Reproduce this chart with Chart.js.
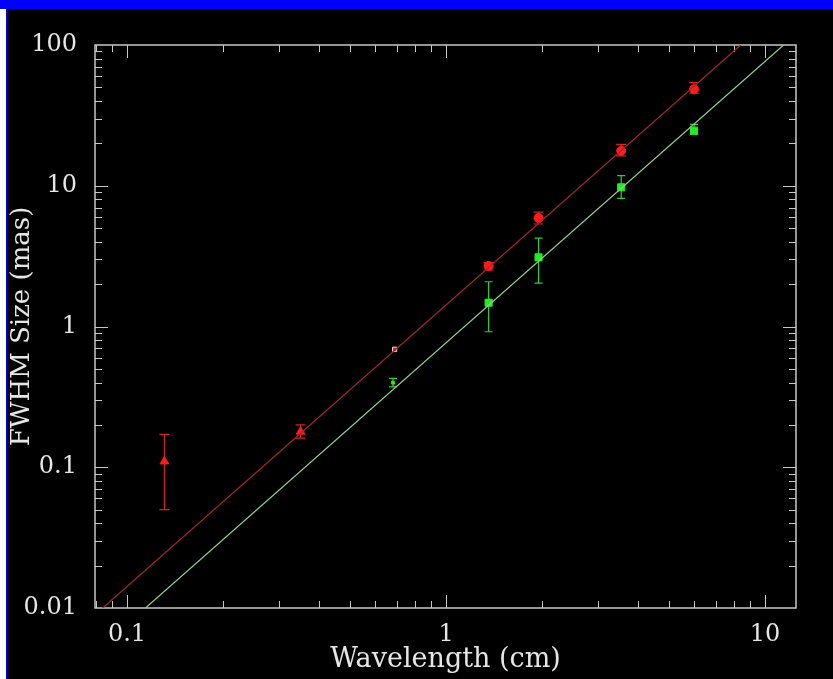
<!DOCTYPE html>
<html>
<head>
<meta charset="utf-8">
<script src="https://cdn.jsdelivr.net/npm/chart.js@4"></script>
<style>
  body { margin: 0; background: #000; width: 833px; height: 679px; overflow: hidden; position: relative; }
  #bar { position: absolute; left: 0; top: 0; width: 833px; height: 9px; background: #0000ff; }
  #edge { position: absolute; left: 0; top: 9px; width: 6px; height: 670px; background: #fff; }
  #edge2 { position: absolute; left: 6px; top: 9px; width: 1px; height: 670px; background: #0000ff; }
  #wrap { position: absolute; left: 7px; top: 9px; width: 826px; height: 670px; }
</style>
</head>
<body>
<div id="bar"></div><div id="edge"></div><div id="edge2"></div>
<div id="wrap"><canvas id="chart" width="826" height="670"></canvas></div>
<script>
// red points (wavelength cm, FWHM mas, error bar low/high)
const redLambda = [0.131, 0.350, 0.690, 1.36, 1.95, 3.54, 5.99];
const redSize   = [0.110, 0.179, 0.689, 2.69, 5.9, 17.7, 48.4];
const redLow    = [0.050, 0.161, 0.689, 2.52, 5.35, 16.3, 45.4];
const redHigh   = [0.171, 0.200, 0.689, 2.84, 6.5, 19.7, 54.0];
const redStyle  = ['triangle', 'triangle', 'rect', 'circle', 'circle', 'circle', 'circle'];

// green points
const greenLambda = [0.682, 1.36, 1.95, 3.54, 5.99];
const greenSize   = [0.399, 1.476, 3.10, 9.75, 24.6];
const greenLow    = [0.373, 0.918, 2.03, 8.14, 23.3];
const greenHigh   = [0.428, 2.08, 4.25, 11.8, 27.3];

// fitted lines, end points
const redFitLambda = [0.0839, 8.39];
const redFitSize = [0.01, 100];
const greenFitLambda = [0.1143, 11.43];
const greenFitSize = [0.01, 100];

const xRange = [0.0794, 12.5];
const yRange = [0.01, 100];

const textColor = '#e6e6e6';
const axisColor = '#c8c8c8';
const fontName = '"DejaVu Serif", serif';

const toPoints = (xs, ys) => xs.map((v, i) => ({ x: v, y: ys[i] }));

function isPow10(v) {
  const l = Math.log10(v);
  return Math.abs(l - Math.round(l)) < 1e-6;
}

// box + inward ticks on all four sides
const framePlugin = {
  id: 'frame',
  beforeDatasetsDraw(chart) {
    const { ctx, chartArea: a, scales } = chart;
    ctx.save();
    ctx.strokeStyle = axisColor;
    ctx.lineWidth = 1.5;
    ctx.strokeRect(a.left, a.top, a.right - a.left, a.bottom - a.top);
    ctx.lineWidth = 1;
    ctx.beginPath();
    const logTicks = (scale, fn) => {
      for (let e = Math.floor(Math.log10(scale.min)); e <= Math.ceil(Math.log10(scale.max)); e++) {
        for (let k = 1; k <= 9; k++) {
          const v = k * Math.pow(10, e);
          if (v < scale.min * 1.0001 || v > scale.max * 0.9999) continue;
          fn(Math.round(scale.getPixelForValue(v)) + 0.5, k === 1 ? 13 : 7);
        }
      }
    };
    logTicks(scales.x, (px, len) => {
      ctx.moveTo(px, a.bottom); ctx.lineTo(px, a.bottom - len);
      ctx.moveTo(px, a.top); ctx.lineTo(px, a.top + len);
    });
    logTicks(scales.y, (py, len) => {
      ctx.moveTo(a.left, py); ctx.lineTo(a.left + len, py);
      ctx.moveTo(a.right, py); ctx.lineTo(a.right - len, py);
    });
    ctx.stroke();
    ctx.restore();
  }
};

// vertical error bars with caps
const errorBarPlugin = {
  id: 'errorBars',
  beforeDatasetsDraw(chart) {
    const { ctx, scales: { x, y } } = chart;
    ctx.save();
    chart.data.datasets.forEach(ds => {
      if (!ds.errLow) return;
      ctx.strokeStyle = ds.errColor;
      ctx.lineWidth = 1.2;
      ctx.beginPath();
      ds.data.forEach((p, i) => {
        const px = x.getPixelForValue(p.x);
        const lo = y.getPixelForValue(ds.errLow[i]);
        const hi = y.getPixelForValue(ds.errHigh[i]);
        if (Math.abs(lo - hi) < 1) return;
        const c = ds.capWidth;
        ctx.moveTo(px, lo); ctx.lineTo(px, hi);
        ctx.moveTo(px - c, lo); ctx.lineTo(px + c, lo);
        ctx.moveTo(px - c, hi); ctx.lineTo(px + c, hi);
      });
      ctx.stroke();
    });
    ctx.restore();
  }
};

new Chart(document.getElementById('chart'), {
  type: 'scatter',
  data: {
    datasets: [
      {
        label: 'red fit',
        data: toPoints(redFitLambda, redFitSize),
        showLine: true,
        borderColor: '#a02a2a',
        borderWidth: 1.2,
        pointRadius: 0
      },
      {
        label: 'green fit',
        data: toPoints(greenFitLambda, greenFitSize),
        showLine: true,
        borderColor: '#8fd08f',
        borderWidth: 1.2,
        pointRadius: 0
      },
      {
        label: 'red',
        data: toPoints(redLambda, redSize),
        errLow: redLow,
        errHigh: redHigh,
        errColor: '#d42424',
        capWidth: 5,
        pointStyle: redStyle,
        pointRadius: [5, 5, 3, 4.5, 4.5, 4.5, 4.5],
        backgroundColor: ['#ff1c1c', '#ff1c1c', '#c03030', '#ff1c1c', '#ff1c1c', '#ff1c1c', '#ff1c1c'],
        borderColor: ['#ff1c1c', '#ff1c1c', '#ffd0d0', '#ff1c1c', '#ff1c1c', '#ff1c1c', '#ff1c1c'],
        borderWidth: 1
      },
      {
        label: 'green',
        data: toPoints(greenLambda, greenSize),
        errLow: greenLow,
        errHigh: greenHigh,
        errColor: '#33d033',
        capWidth: 4,
        pointStyle: 'rect',
        pointRadius: [2, 5, 5, 5, 5],
        backgroundColor: '#22ee22',
        borderColor: '#22ee22',
        borderWidth: 1
      }
    ]
  },
  options: {
    responsive: false,
    animation: false,
    events: [],
    layout: { padding: { left: 0, top: 36, right: 37, bottom: 0 } },
    plugins: { legend: { display: false }, tooltip: { enabled: false } },
    scales: {
      x: {
        type: 'logarithmic',
        min: xRange[0],
        max: xRange[1],
        grid: { display: false, drawTicks: false },
        border: { display: false },
        ticks: {
          autoSkip: false,
          maxRotation: 0,
          padding: 12,
          color: textColor,
          font: { family: fontName, size: 24 },
          callback: v => isPow10(v) ? String(Number(v.toPrecision(6))) : ''
        },
        title: {
          display: true,
          text: 'Wavelength (cm)',
          color: textColor,
          font: { family: fontName, size: 27 },
          padding: { top: 0, bottom: 3 }
        },
        afterFit: s => { s.height = 71; }
      },
      y: {
        type: 'logarithmic',
        min: yRange[0],
        max: yRange[1],
        grid: { display: false, drawTicks: false },
        border: { display: false },
        ticks: {
          autoSkip: false,
          padding: 18,
          color: textColor,
          font: { family: fontName, size: 24 },
          callback: v => isPow10(v) ? String(Number(v.toPrecision(6))) : ''
        },
        title: {
          display: true,
          text: 'FWHM Size (mas)',
          color: textColor,
          font: { family: fontName, size: 26 },
          padding: { top: 0, bottom: 0 }
        },
        afterFit: s => { s.width = 88; }
      }
    }
  },
  plugins: [framePlugin, errorBarPlugin]
});
</script>
</body>
</html>
